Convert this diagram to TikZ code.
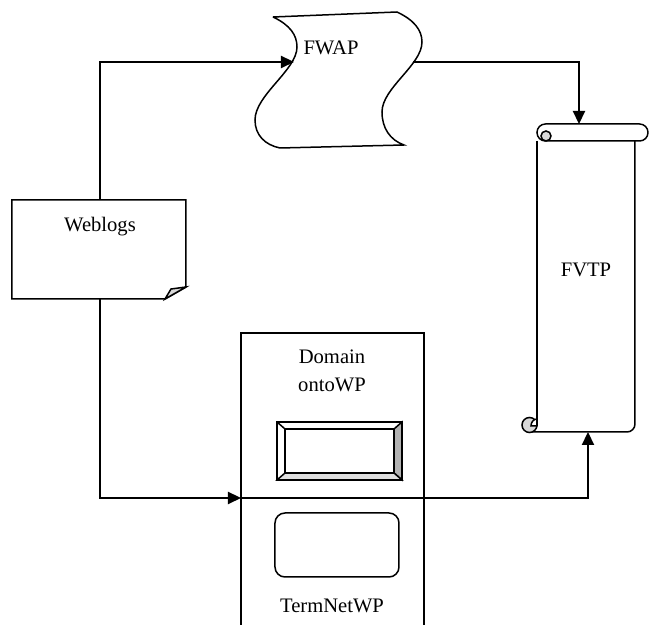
\documentclass[tikz,border=0pt]{standalone}
\usepackage{fontspec}
\setmainfont{Liberation Serif}
\usetikzlibrary{arrows.meta}
\tikzset{>={Triangle[length=6.5pt,width=6pt]}}
\tikzset{
  shapeline/.style={line width=0.75pt},
  flow/.style={line width=1.1pt},
  lbl/.style={font=\fontsize{10.3}{12}\selectfont,inner sep=0pt,anchor=base},
}

\begin{document}
\begin{tikzpicture}[x=0.5pt,y=-0.5pt]
\useasboundingbox (0,0) rectangle (650,625);
% Weblogs (document with folded corner)
\filldraw[shapeline,fill=white] (12,200) -- (186,200) -- (186,287) -- (165,299) -- (12,299) -- cycle;
\filldraw[shapeline,fill=gray!30] (186,287) -- (165,299) -- (171,289) -- cycle;
\node[lbl] (weblogs) at (100,232) {Weblogs};
\coordinate (webtop) at (100,200);
\coordinate (webbot) at (100,299);
% FWAP (tape)
\draw[shapeline] (273,17) -- (397,12)
  .. controls (414,20) and (422,30) .. (422,42)
  .. controls (422,65) and (382,88) .. (382,112)
  .. controls (382,128) and (390,140) .. (404,145)
  -- (280,148)
  .. controls (265,145) and (255,135) .. (255,120)
  .. controls (255,95) and (297,70) .. (297,47)
  .. controls (297,35) and (290,25) .. (273,17);
\node[lbl] (fwap) at (331,55) {FWAP};
\coordinate (fwapin) at (294,62);
\coordinate (fwapout) at (413,62);
% FVTP (scroll)
\draw[shapeline,rounded corners=4pt] (530,432) -- (635,432) -- (635,141);
\draw[shapeline] (537,141) -- (537,426);
\filldraw[shapeline,fill=gray!30] (529.5,425) circle[radius=7.5];
\filldraw[shapeline,fill=white] (531,426) -- (537,426) -- (537,419) to[out=180,in=90] cycle;
\filldraw[shapeline,fill=white,rounded corners=4.2pt] (537,124) rectangle (648,141);
\filldraw[shapeline,fill=gray!30] (546,136) circle[radius=5];
\node[lbl] (fvtp) at (586,277) {FVTP};
\coordinate (fvtptop) at (579,124);
\coordinate (fvtpbot) at (588,432);
% Domain ontoWP / TermNetWP
\draw[shapeline] (241,625) -- (241,333) -- (424,333) -- (424,625);
\node[lbl] (domain) at (332,364) {Domain};
\node[lbl] (onto) at (332,392) {ontoWP};
\filldraw[shapeline,fill=white] (277,422) rectangle (402,480);
\filldraw[shapeline,fill=gray!60] (394,429) -- (402,422) -- (402,480) -- (394,473) -- cycle;
\filldraw[shapeline,fill=gray!25] (285,473) -- (394,473) -- (402,480) -- (277,480) -- cycle;
\draw[shapeline] (277,422) -- (285,429);
\draw[line width=1.1pt] (285,429) rectangle (394,473);
\draw[shapeline,rounded corners=5pt] (275,513) rectangle (399,577);
\node[lbl] (termnet) at (332,613) {TermNetWP};
\coordinate (domin) at (241,498);
% connectors
\draw[flow,->] (webtop) |- (fwapin);
\draw[flow,->] (fwapout) -| (fvtptop);
\draw[flow,->] (webbot) |- (domin);
\draw[flow,->] (domin) -| (fvtpbot);
\end{tikzpicture}
\end{document}
